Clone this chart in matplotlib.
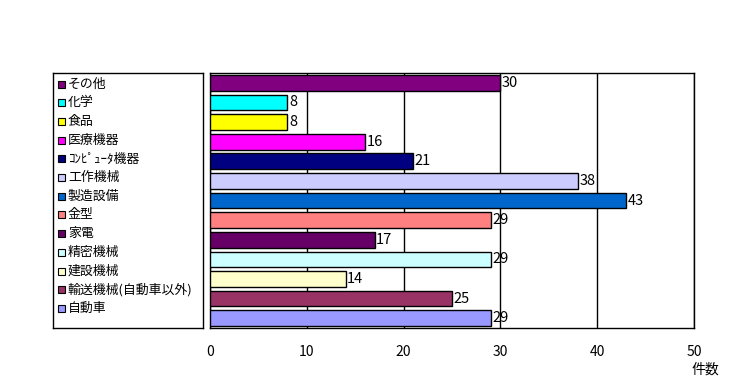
import matplotlib
matplotlib.use("Agg")
import matplotlib.pyplot as plt
from matplotlib.patches import Rectangle

plt.rcParams['font.family'] = ['Noto Sans CJK JP', 'DejaVu Sans']

# data, top to bottom as drawn
categories = ["その他", "化学", "食品", "医療機器", "ｺﾝﾋﾟｭｰﾀ機器", "工作機械", "製造設備",
              "金型", "家電", "精密機械", "建設機械", "輸送機械(自動車以外)", "自動車"]
counts = [30, 8, 8, 16, 21, 38, 43, 29, 17, 29, 14, 25, 29]
colors = ["#800080", "#00FFFF", "#FFFF00", "#FF00FF", "#000080", "#CCCCFF", "#0066CC",
          "#FF8080", "#660066", "#CCFFFF", "#FFFFCC", "#993366", "#9999FF"]
xticks = [0, 10, 20, 30, 40, 50]

W, H = 739, 387
fig = plt.figure(figsize=(W / 100, H / 100), dpi=100)

# ---- bar chart ----
ax = fig.add_axes([210 / W, 1 - 328 / H, 484 / W, 255 / H])
ypos = list(range(len(categories)))
ax.barh(ypos, counts, height=0.8, color=colors, edgecolor="black", linewidth=1, zorder=3)
for y, v in zip(ypos, counts):
    ax.text(v + 0.15, y, str(v), va="center", ha="left", fontsize=10.5, zorder=4)

ax.set_xlim(0, 50)
ax.set_ylim(len(categories) - 0.5, -0.5)
ax.set_xticks(xticks)
ax.set_xticklabels([str(t) for t in xticks], fontsize=10)
ax.tick_params(axis="x", length=0, pad=12)
ax.set_yticks([])
ax.grid(axis="x", color="black", linewidth=1, zorder=1)
for s in ax.spines.values():
    s.set_linewidth(1)
fig.text(705 / W, 1 - 370 / H, "件数", ha="center", va="center", fontsize=10)

# ---- legend box ----
lg = fig.add_axes([53 / W, 1 - 328 / H, 150 / W, 255 / H])
lg.set_xlim(0, 150)
lg.set_ylim(255, 0)
lg.set_xticks([])
lg.set_yticks([])
for s in lg.spines.values():
    s.set_linewidth(1)
for i, (name, c) in enumerate(zip(categories, colors)):
    y = 11 + 18.7 * i
    lg.add_patch(Rectangle((5, y - 3.5), 7, 7, facecolor=c, edgecolor="black", linewidth=0.8))
    lg.text(15, y, name, va="center", ha="left", fontsize=9.3)

fig.savefig("out.png", dpi=100)
